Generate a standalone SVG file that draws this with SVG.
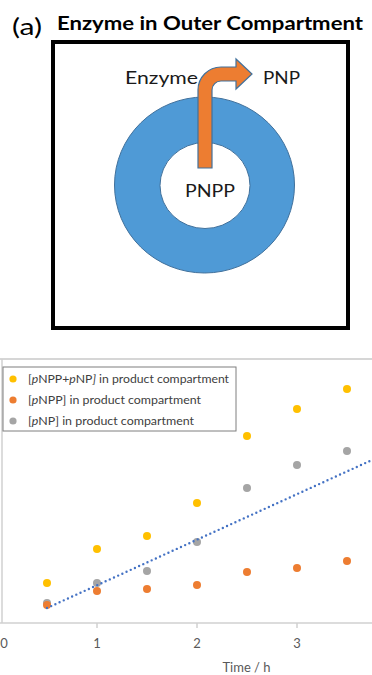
<svg xmlns="http://www.w3.org/2000/svg" width="372" height="675" viewBox="0 0 372 675">
  <style>
    .title { font-family: Lato, "Open Sans", "Liberation Sans", sans-serif; fill: #000; }
    .lbl { font-family: Lato, "Open Sans", "Liberation Sans", sans-serif; font-size: 18px; fill: #1a1a1a; }
    .leg { font-family: Lato, "Open Sans", "Liberation Sans", sans-serif; font-size: 11.5px; fill: #404040; }
    .tick { font-family: Lato, "Open Sans", "Liberation Sans", sans-serif; font-size: 13px; fill: #595959; text-anchor: middle; }
    .axis { stroke: #d0d0d0; stroke-width: 1.5; fill: none; }
    .y { fill: #ffc000; }
    .o { fill: #ed7d31; }
    .g { fill: #a5a5a5; }
  </style>

  <!-- panel heading -->
  <text class="title" x="12" y="35" font-size="23" textLength="30" lengthAdjust="spacingAndGlyphs">(a)</text>
  <text class="title" x="57" y="30" font-size="18" font-weight="bold" textLength="306" lengthAdjust="spacingAndGlyphs">Enzyme in Outer Compartment</text>

  <!-- compartment frame -->
  <rect x="53" y="42" width="295" height="286" fill="#fff" stroke="#000" stroke-width="4"/>

  <!-- outer compartment ring with inner compartment -->
  <g id="ring">
    <path d="M114.5,185 a90,88 0 1,0 180,0 a90,88 0 1,0 -180,0 Z M160,185.5 a45,43 0 1,1 90,0 a45,43 0 1,1 -90,0 Z"
          fill="#4f9ad6" fill-rule="evenodd" stroke="#41719c" stroke-width="1"/>
  </g>

  <!-- bent arrow from inner compartment out -->
  <g id="arrow">
    <path d="M198,168 L198,90 A23,23 0 0 1 221,67 L236,67 L236,59 L252,74 L236,89 L236,81 L221,81 A9,9 0 0 0 212,90 L212,168 Z"
          fill="#ed7d31" stroke="#41719c" stroke-width="1.2" stroke-linejoin="miter"/>
  </g>

  <g id="labels">
    <text class="lbl" x="125" y="84" textLength="73" lengthAdjust="spacingAndGlyphs">Enzyme</text>
    <text class="lbl" x="263" y="84" textLength="37" lengthAdjust="spacingAndGlyphs">PNP</text>
    <text class="lbl" x="185" y="197" textLength="50" lengthAdjust="spacingAndGlyphs">PNPP</text>
  </g>

  <!-- chart frame and axes -->
  <line x1="0" y1="359" x2="372" y2="359" stroke="#c8c8c8" stroke-width="1.5"/>
  <line class="axis" x1="2" y1="359" x2="2" y2="623"/>
  <line class="axis" x1="0" y1="623" x2="372" y2="623"/>
  <g class="axis">
    <line x1="97" y1="623" x2="97" y2="628"/>
    <line x1="197" y1="623" x2="197" y2="628"/>
    <line x1="297" y1="623" x2="297" y2="628"/>
  </g>
  <text class="tick" x="4" y="648">0</text>
  <text class="tick" x="97" y="648">1</text>
  <text class="tick" x="197" y="648">2</text>
  <text class="tick" x="297" y="648">3</text>
  <text class="tick" x="246.5" y="672" font-size="15.5">Time / h</text>

  <!-- legend -->
  <g id="legend">
    <rect x="3" y="367" width="233" height="64" fill="#fff" stroke="#7f7f7f" stroke-width="1"/>
    <circle class="y" cx="13" cy="379" r="3.6"/>
    <circle class="o" cx="13" cy="400" r="3.6"/>
    <circle class="g" cx="13" cy="421" r="3.6"/>
    <text class="leg" x="28" y="383" textLength="201" lengthAdjust="spacingAndGlyphs">[<tspan font-style="italic">p</tspan>NPP+<tspan font-style="italic">p</tspan>NP<tspan font-style="italic">]</tspan> in product compartment</text>
    <text class="leg" x="28" y="404" textLength="173" lengthAdjust="spacingAndGlyphs">[<tspan font-style="italic">p</tspan>NPP] in product compartment</text>
    <text class="leg" x="28" y="425" textLength="166" lengthAdjust="spacingAndGlyphs">[<tspan font-style="italic">p</tspan>NP] in product compartment</text>
  </g>

  <!-- data series -->
  <g id="series-total">
    <circle class="y" cx="47" cy="583" r="4"/>
    <circle class="y" cx="97" cy="549" r="4"/>
    <circle class="y" cx="147" cy="536" r="4"/>
    <circle class="y" cx="197" cy="503" r="4"/>
    <circle class="y" cx="247" cy="436" r="4"/>
    <circle class="y" cx="297" cy="409" r="4"/>
    <circle class="y" cx="347" cy="389" r="4"/>
  </g>
  <g id="series-pnp">
    <circle class="g" cx="47" cy="603" r="4"/>
    <circle class="g" cx="97" cy="583" r="4"/>
    <circle class="g" cx="147" cy="571" r="4"/>
    <circle class="g" cx="197" cy="542" r="4"/>
    <circle class="g" cx="247" cy="488" r="4"/>
    <circle class="g" cx="297" cy="465" r="4"/>
    <circle class="g" cx="347" cy="451" r="4"/>
  </g>
  <g id="series-pnpp">
    <circle class="o" cx="47" cy="605" r="4"/>
    <circle class="o" cx="97" cy="591" r="4"/>
    <circle class="o" cx="147" cy="589" r="4"/>
    <circle class="o" cx="197" cy="585" r="4"/>
    <circle class="o" cx="247" cy="572" r="4"/>
    <circle class="o" cx="297" cy="568" r="4"/>
    <circle class="o" cx="347" cy="561" r="4"/>
  </g>

  <!-- linear trend line -->
  <g id="connectors">
    <line x1="47" y1="608" x2="372" y2="460" stroke="#4472c4" stroke-width="2.4" stroke-linecap="round" stroke-dasharray="0 4.6"/>
  </g>
</svg>
